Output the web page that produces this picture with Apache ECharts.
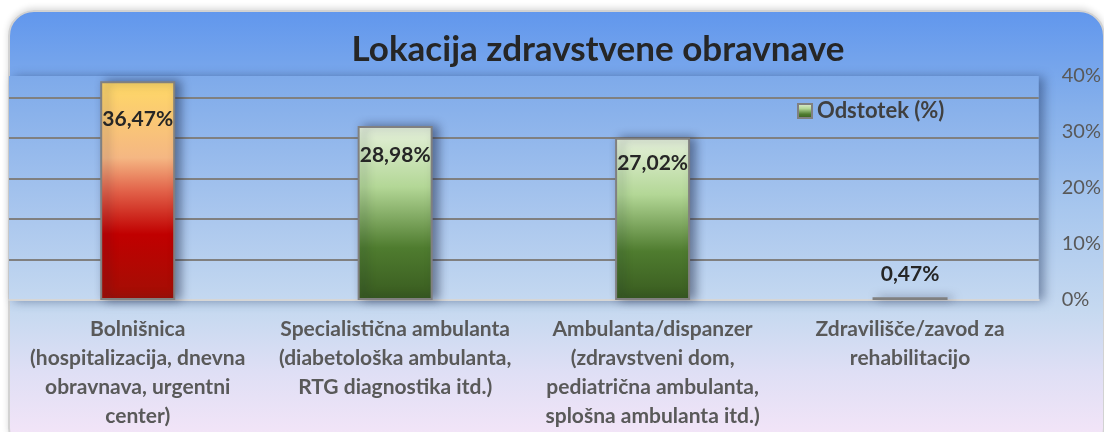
<!DOCTYPE html>
<html>
<head>
<meta charset="utf-8">
<script src="https://cdn.jsdelivr.net/npm/echarts@6/dist/echarts.min.js"></script>
<style>
  html, body { margin: 0; padding: 0; background: #fff; }
  #bg {
    position: absolute; left: 8px; top: 10px; width: 1093px; height: 440px;
    border: 2px solid #d2d2d2; border-radius: 26px;
    background: linear-gradient(to bottom, #6197ed 0%, #86b0eb 22%, #a8c7ee 45%, #c6d9f0 68%, #dfdff5 82%, #f8e6f8 100%);
    box-shadow: 0 -2px 6px rgba(0,0,0,0.15);
  }
  #chart { position: absolute; left: 0; top: 0; width: 1104px; height: 432px; }
</style>
</head>
<body>
<div id="bg"></div>
<div id="chart"></div>
<script>
// podatki
const categories = [
  'Bolnišnica\n(hospitalizacija, dnevna\nobravnava, urgentni\ncenter)',
  'Specialistična ambulanta\n(diabetološka ambulanta,\nRTG diagnostika itd.)',
  'Ambulanta/dispanzer\n(zdravstveni dom,\npediatrična ambulanta,\nsplošna ambulanta itd.)',
  'Zdravilišče/zavod za\nrehabilitacijo'
];
const odstotek = [36.47, 28.98, 27.02, 0.47];
const tickLabels = ['0%', '10%', '20%', '30%', '40%'];

const font = 'Lato';
const greenGrad = new echarts.graphic.LinearGradient(0, 0, 0, 1, [
  { offset: 0, color: '#e6f1dc' },
  { offset: 0.35, color: '#b3d796' },
  { offset: 0.7, color: '#4f7c2f' },
  { offset: 1, color: '#385a1f' }
]);
const redGrad = new echarts.graphic.LinearGradient(0, 0, 0, 1, [
  { offset: 0, color: '#ffd966' },
  { offset: 0.35, color: '#f5b783' },
  { offset: 0.5, color: '#e2634a' },
  { offset: 0.7, color: '#c00000' },
  { offset: 1, color: '#a20f05' }
]);

// odmik oznak od vrha stolpca
const labelDist = [28, 19, 15, 12];

const chart = echarts.init(document.getElementById('chart'));

const option = {
  backgroundColor: 'transparent',
  title: {
    text: 'Lokacija zdravstvene obravnave',
    left: 593,
    textAlign: 'center',
    top: 27,
    textStyle: { fontFamily: font, fontSize: 35, fontWeight: 'bold', color: '#262626' }
  },
  legend: {
    data: ['Odstotek (%)'],
    left: 797,
    top: 100,
    padding: 0,
    itemWidth: 14,
    itemHeight: 14,
    icon: 'rect',
    textStyle: { fontFamily: font, fontSize: 22, fontWeight: 'bold', color: '#404040' }
  },
  grid: {
    left: 9,
    right: 64,
    top: 76,
    bottom: 132,
    show: true,
    borderWidth: 0,
    backgroundColor: new echarts.graphic.LinearGradient(0, 0, 0, 1, [
      { offset: 0, color: '#7eaaea' },
      { offset: 1, color: '#c4d8f0' }
    ]),
    shadowBlur: 10,
    shadowColor: 'rgba(20,40,80,0.45)',
    shadowOffsetX: 5,
    shadowOffsetY: 1
  },
  xAxis: {
    type: 'category',
    data: categories,
    axisTick: { show: false },
    axisLine: { lineStyle: { color: '#d6d6d6', width: 2 } },
    axisLabel: {
      interval: 0,
      margin: 15,
      fontFamily: font,
      fontSize: 21,
      fontWeight: 'bold',
      color: '#595959',
      lineHeight: 29,
      align: 'center'
    }
  },
  yAxis: [
    {
      type: 'value',
      min: 0,
      max: 37.33,
      interval: 6.75,
      axisLabel: { show: false },
      axisLine: { show: false },
      axisTick: { show: false },
      splitLine: {
        lineStyle: {
          color: ['rgba(0,0,0,0)', '#808080', '#808080', '#808080', '#808080', '#808080', 'rgba(0,0,0,0)'],
          width: 2
        }
      }
    },
    {
      type: 'value',
      position: 'right',
      min: 0,
      max: 40,
      interval: 10,
      axisLine: { show: false },
      axisTick: { show: false },
      splitLine: { show: false },
      axisLabel: {
        margin: 23,
        formatter: function (v) { return tickLabels[Math.round(v / 10)]; },
        fontFamily: font,
        fontSize: 20,
        color: '#595959'
      }
    }
  ],
  series: [
    {
      name: 'Odstotek (%)',
      type: 'bar',
      yAxisIndex: 0,
      barWidth: 75,
      itemStyle: {
        color: greenGrad,
        borderColor: '#808080',
        borderWidth: 2,
        shadowBlur: 10,
        shadowColor: 'rgba(20,30,60,0.5)',
        shadowOffsetX: 5
      },
      label: {
        show: true,
        position: 'insideTop',
        fontFamily: font,
        fontSize: 21,
        fontWeight: 'bold',
        color: '#262626',
        formatter: function (p) { return p.value.toFixed(2).replace('.', ',') + '%'; }
      },
      data: odstotek.map(function (v, i) {
        const item = { value: v, label: { distance: labelDist[i] } };
        if (i === 0) item.itemStyle = { color: redGrad };
        if (v < 5) {
          item.label.position = 'top';
          item.itemStyle = { color: '#c9e0b4' };
        }
        return item;
      })
    }
  ]
};

chart.setOption(option);
</script>
</body>
</html>
